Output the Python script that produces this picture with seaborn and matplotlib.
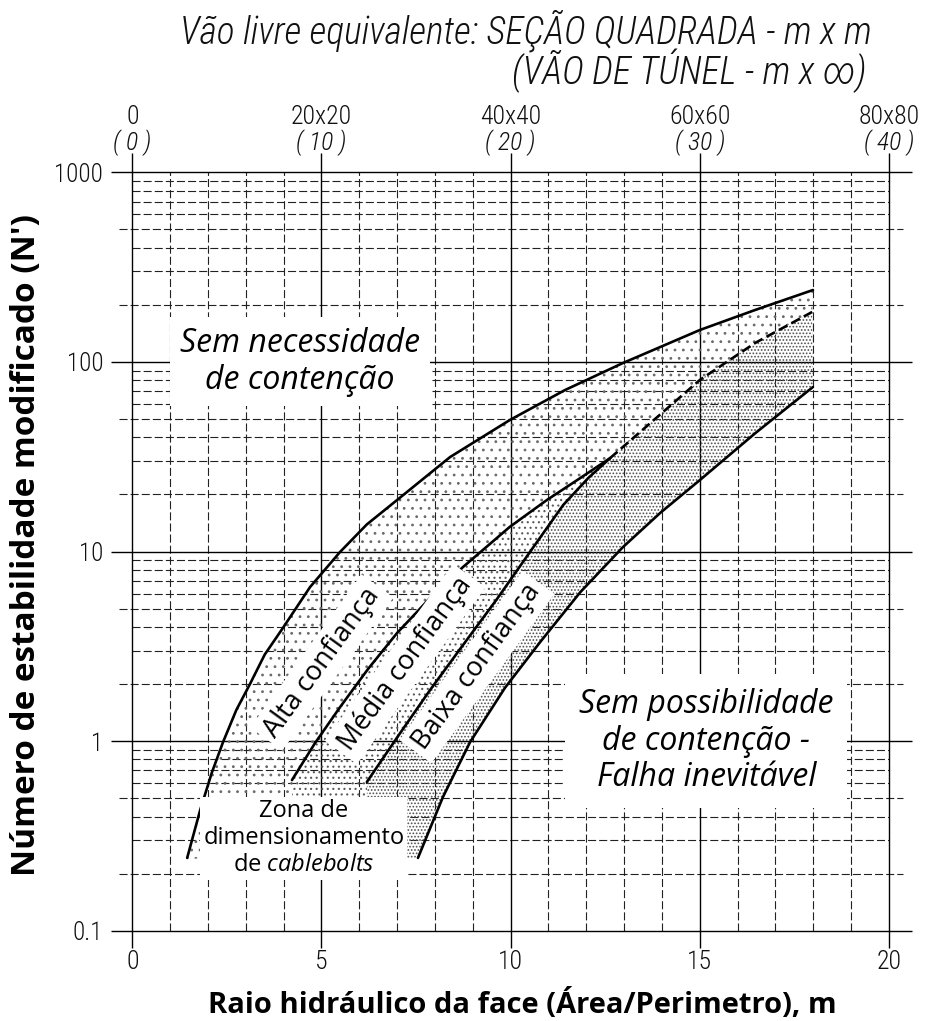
import matplotlib
matplotlib.use("Agg")
import matplotlib.pyplot as plt
from matplotlib import font_manager
import seaborn as sns

# ---- curves of the stability graph (hydraulic radius in m, N' on a log scale)
upper_x = [1.45, 1.79, 2.10, 2.40, 2.75, 3.11, 3.50, 3.98, 4.70, 5.49, 6.20, 7.00,
           8.40, 9.98, 11.44, 12.97, 15.00, 16.46, 17.99]
upper_y = [0.242, 0.43, 0.68, 0.99, 1.46, 2.00, 2.86, 3.95, 6.5, 9.94, 13.9, 18.7,
           31.5, 49.4, 71.1, 98.7, 147.3, 187.8, 239.4]

alta_media_x = [4.22, 4.83, 5.49, 6.23, 7.00, 7.87, 8.74, 9.98, 10.96, 11.84, 12.63]
alta_media_y = [0.623, 0.977, 1.51, 2.40, 3.72, 5.68, 8.28, 13.5, 18.7, 24.4, 31.1]

media_baixa_x = [6.20, 7.02, 7.87, 8.74, 9.64, 10.51, 11.39, 12.05, 12.63]
media_baixa_y = [0.609, 1.06, 1.86, 3.21, 5.62, 9.94, 17.6, 24.4, 31.1]

extension_x = [12.63, 15.00, 16.46, 17.97]
extension_y = [31.1, 80.3, 125.8, 183.4]

lower_x = [7.55, 8.21, 8.93, 9.85, 10.78, 11.84, 12.97, 13.95, 15.00, 16.46, 17.99]
lower_y = [0.242, 0.507, 0.99, 1.91, 3.33, 6.1, 10.56, 15.96, 23.8, 42.0, 73.7]

zone_floor = 0.24

# ---- axes ticks and labels
x_ticks = [0, 5, 10, 15, 20]
x_tick_labels = ["0", "5", "10", "15", "20"]
square_labels = ["0", "20x20", "40x40", "60x60", "80x80"]
tunnel_labels = ["( 0 )", "( 10 )", "( 20 )", "( 30 )", "( 40 )"]
y_ticks = [0.1, 1, 10, 100, 1000]
y_tick_labels = ["0.1", "1", "10", "100", "1000"]

sns.set_theme(style="white")
plt.rcParams["lines.scale_dashes"] = False
plt.rcParams["hatch.linewidth"] = 0.8
plt.rcParams["text.color"] = "black"

available = {f.name for f in font_manager.fontManager.ttflist}
narrow = next((f for f in ["Liberation Sans Narrow", "Roboto Condensed",
                           "Open Sans Condensed"] if f in available), "DejaVu Sans")
main_font = "Open Sans" if "Open Sans" in available else "DejaVu Sans"
plt.rcParams["font.family"] = [main_font, "DejaVu Sans"]
plt.rcParams["mathtext.fontset"] = "custom"
plt.rcParams["mathtext.rm"] = main_font
plt.rcParams["mathtext.it"] = main_font + ":italic"

fig = plt.figure(figsize=(9.34, 10.21), dpi=100)
ax = fig.add_axes([0.14165, 0.08844, 0.81017, 0.7428])
ax.set_yscale("log")
ax.set_xlim(0, 20)
ax.set_ylim(0.1, 1000)
for s in ax.spines.values():
    s.set_visible(False)

# ---- grid
dash = (0, (5.8, 2.2))
grid_kw = dict(color="#222222", linewidth=0.8, linestyles=[dash], zorder=1, clip_on=False)
minor_x = [v for v in range(1, 20) if v % 5]
ax.vlines(minor_x, 0.1, 1000, **grid_kw)
for d in y_ticks[:-1]:
    for m in range(2, 10):
        if m in (2, 5):
            ax.hlines(d * m, -0.35, 20.37, **grid_kw)
        else:
            ax.hlines(d * m, 0, 20, **grid_kw)
solid_kw = dict(color="black", linewidth=1.0, zorder=1.2, clip_on=False)
ax.vlines(x_ticks, 0.1, 1000, **solid_kw)
ax.hlines(y_ticks, -0.56, 20.6, **solid_kw)

# ---- stippled confidence zones
alta_px = upper_x + extension_x[::-1] + alta_media_x[::-1] + [alta_media_x[0], upper_x[0]]
alta_py = upper_y + extension_y[::-1] + alta_media_y[::-1] + [zone_floor, zone_floor]
media_px = alta_media_x + media_baixa_x[::-1] + [media_baixa_x[0], alta_media_x[0]]
media_py = alta_media_y + media_baixa_y[::-1] + [zone_floor, zone_floor]
baixa_px = media_baixa_x + extension_x[1:] + lower_x[::-1] + [media_baixa_x[0]]
baixa_py = media_baixa_y + extension_y[1:] + lower_y[::-1] + [zone_floor]

for px, py, hatch, col in [(alta_px, alta_py, "..", "#6a6a6a"),
                           (media_px, media_py, "...", "#5a5a5a"),
                           (baixa_px, baixa_py, ".....", "#505050")]:
    ax.fill(px, py, facecolor="none", edgecolor=col, hatch=hatch,
            linewidth=0, zorder=2)

# ---- boundary curves
line_kw = dict(color="black", linewidth=1.9, estimator=None, ax=ax, zorder=3)
sns.lineplot(x=upper_x, y=upper_y, **line_kw)
sns.lineplot(x=alta_media_x, y=alta_media_y, **line_kw)
sns.lineplot(x=media_baixa_x, y=media_baixa_y, **line_kw)
sns.lineplot(x=lower_x, y=lower_y, **line_kw)
sns.lineplot(x=extension_x, y=extension_y, linestyle=(0, (7, 3.2)), **line_kw)

# ---- ticks
ax.set_xticks(x_ticks, labels=x_tick_labels)
ax.set_yticks(y_ticks, labels=y_tick_labels)
ax.minorticks_off()
ax.tick_params(axis="x", bottom=True, top=False, direction="out", length=12.2,
               width=1.0, color="black", pad=2, labelsize=18.5, labelcolor="#111111")
ax.tick_params(axis="y", left=False, length=0, pad=21, labelsize=18,
               labelcolor="#111111")
for lab in ax.get_xticklabels() + ax.get_yticklabels():
    lab.set_fontfamily(narrow)
    lab.set_fontweight("light")

sec_sq = ax.secondary_xaxis("top")
sec_sq.set_xticks(x_ticks, labels=square_labels)
sec_sq.tick_params(axis="x", direction="out", length=13.7, width=1.0, color="black",
                   pad=17.5, labelsize=18.5, labelcolor="#111111")
sec_tn = ax.secondary_xaxis("top")
sec_tn.set_xticks(x_ticks, labels=tunnel_labels)
sec_tn.tick_params(axis="x", length=0, pad=12.0, labelsize=18.5, labelcolor="#111111")
for sec in (sec_sq, sec_tn):
    for s in sec.spines.values():
        s.set_visible(False)
for lab in sec_sq.get_xticklabels():
    lab.set_fontfamily(narrow)
    lab.set_fontweight("light")
for lab in sec_tn.get_xticklabels():
    lab.set_fontfamily(narrow)
    lab.set_fontweight("light")
    lab.set_fontstyle("italic")

# ---- zone annotations
white = dict(facecolor="white", edgecolor="none")
ax.text(4.43, 100, "Sem necessidade\nde contenção", fontsize=23, style="italic",
        ha="center", va="center", linespacing=1.15, zorder=4,
        bbox=dict(pad=7, **white))
ax.text(15.17, 1.0, "Sem possibilidade\nde contenção -\nFalha inevitável",
        fontsize=23, style="italic", ha="center", va="center", linespacing=1.15,
        zorder=4, bbox=dict(pad=10, **white))
ax.text(4.53, 0.308, "Zona de\ndimensionamento\nde $\\mathit{cablebolts}$",
        fontsize=17, ha="center", va="center", linespacing=1.15, zorder=4,
        bbox=dict(pad=2, **white))
for x, y, txt in [(5.01, 2.6, "Alta confiança"), (7.21, 2.55, "Média confiança"),
                  (9.11, 2.46, "Baixa confiança")]:
    ax.text(x, y, txt, fontsize=19.5, rotation=54, rotation_mode="anchor",
            ha="center", va="center", zorder=4, bbox=dict(pad=4, **white))

# ---- axis titles
fig.text(526 / 934, 1 - 43 / 1021, "Vão livre equivalente: SEÇÃO QUADRADA - m x m",
         family=[narrow, "DejaVu Sans"], style="italic", weight="light", fontsize=27,
         ha="center", va="baseline", color="#111111")
fig.text(866 / 934, 1 - 84 / 1021, "(VÃO DE TÚNEL - m x ∞)",
         family=[narrow, "DejaVu Sans"], style="italic", weight="light", fontsize=27,
         ha="right", va="baseline", color="#111111")
fig.text(27 / 934, 1 - 545 / 1021, "Número de estabilidade modificado (N')",
         rotation=90, fontsize=24, weight="bold", ha="center", va="center")
fig.text(522 / 934, 1 - 1004 / 1021, "Raio hidráulico da face (Área/Perimetro), m",
         fontsize=21, weight="bold", ha="center", va="center")

fig.savefig("out.png", dpi=100, facecolor="white")
